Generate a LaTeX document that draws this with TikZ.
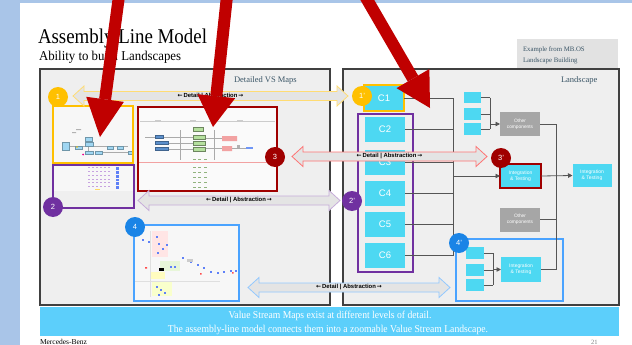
\documentclass[tikz,border=0pt]{standalone}
\usepackage{fontspec}
\setmainfont{Liberation Serif}
\setsansfont{Liberation Sans}
\newfontfamily\symbolfont{DejaVu Sans}
\usetikzlibrary{arrows.meta}

\definecolor{slideblue}{HTML}{A9C5E8}
\definecolor{panelgrey}{HTML}{EFEFEF}
\definecolor{panelline}{HTML}{404040}
\definecolor{headink}{HTML}{3A5566}
\definecolor{badgeyellow}{HTML}{FFC000}
\definecolor{badgepurple}{HTML}{7030A0}
\definecolor{badgered}{HTML}{A00000}
\definecolor{badgeblue}{HTML}{1A84E6}
\definecolor{frameblue}{HTML}{4AA3FF}
\definecolor{cyanbox}{HTML}{4DD8F2}
\definecolor{compgrey}{HTML}{A6A6A6}
\definecolor{wiregrey}{HTML}{555555}
\definecolor{bigred}{HTML}{C00000}
\definecolor{banner}{HTML}{5CCFFB}
\definecolor{arrowfill}{HTML}{E4E4E4}
\definecolor{examplegrey}{HTML}{E2E2E2}
\definecolor{minblue}{HTML}{9FD6F2}
\definecolor{mindark}{HTML}{5B8FCB}
\definecolor{mingreen}{HTML}{B5E09E}
\definecolor{minpink}{HTML}{F2A2A2}
\definecolor{minpurple}{HTML}{C7A3E0}

% double-headed "Detail | Abstraction" arrow: name, x-left, x-right, y, outline colour
\newcommand\detailarrow[5]{%
  \draw[draw=#5, fill=arrowfill, line width=0.8pt, line join=miter]
    (#2,#4) -- ({#2+11},{#4-10}) -- ({#2+11},{#4-4.5}) -- ({#3-11},{#4-4.5})
    -- ({#3-11},{#4-10}) -- (#3,#4) -- ({#3-11},{#4+10}) -- ({#3-11},{#4+4.5})
    -- ({#2+11},{#4+4.5}) -- ({#2+11},{#4+10}) -- cycle;
  \node[arrowtext] (#1) at ({(#2+#3)/2},#4)
    {{\symbolfont ←}\,Detail | Abstraction\,{\symbolfont →}};}

\tikzset{
  every node/.style={inner sep=0pt, outer sep=0pt},
  arrowtext/.style={font=\sffamily\bfseries\fontsize{5.9}{5.9}\selectfont, text=black},
  badge/.style={circle, minimum size=20pt, text=white,
    font=\sffamily\fontsize{7.5}{7.5}\selectfont},
  cbox/.style={rectangle, fill=cyanbox, text=white, minimum width=40pt,
    minimum height=25pt, font=\sffamily\fontsize{9.5}{9.5}\selectfont},
  tinybox/.style={rectangle, fill=cyanbox, minimum width=17pt, minimum height=11.5pt},
  comp/.style={rectangle, fill=compgrey, text=white, minimum width=40pt,
    minimum height=24pt, align=center, font=\sffamily\fontsize{4.8}{6}\selectfont},
  integ/.style={rectangle, fill=cyanbox, text=white, minimum width=41pt,
    minimum height=24pt, align=center, font=\sffamily\fontsize{5}{6.2}\selectfont},
  wire/.style={draw=wiregrey, line width=0.8pt},
  feed/.style={wire, -{Triangle[length=4.5pt,width=4.5pt]}},
  bigarrow/.style={draw=bigred, line width=12pt,
    -{Triangle[length=#1,width=38pt,line width=0pt]}},
  panel/.style={fill=panelgrey, draw=panelline, line width=1.4pt},
  head/.style={text=headink, font=\fontsize{8.5}{8.5}\selectfont, anchor=base west},
  mini/.style={draw=wiregrey!50, line width=0.3pt},
}

\begin{document}
\begin{tikzpicture}[x=1pt, y=-1pt]
\useasboundingbox (0,0) rectangle (632,345);

% slide background
\fill[slideblue] (0,0) rectangle (632,345);
\fill[white] (20,3) rectangle (632,345);

% titles
\node[anchor=base west, font=\fontsize{21}{21}\selectfont] (title) at (38,44)
  {\scalebox{0.9}[1]{Assembly Line Model}};
\node[anchor=base west, font=\fontsize{13.5}{13.5}\selectfont] (subtitle) at (39,61)
  {\scalebox{0.95}[1]{Ability to build Landscapes}};

% example tag
\fill[examplegrey] (517,39) rectangle (618,68);
\node[anchor=base west, text=headink, font=\fontsize{6.8}{6.8}\selectfont] (ex1) at (523,52) {Example from MB.OS};
\node[anchor=base west, text=headink, font=\fontsize{6.8}{6.8}\selectfont] (ex2) at (523,62.5) {Landscape Building};

% panels
\draw[panel] (40,69) rectangle (330,305);
\draw[panel] (343,69) rectangle (619,305);
\node[head] (lefthead) at (234,82) {Detailed VS Maps};
\node[head] (righthead) at (561,83) {Landscape};

% ---------- detailed maps ----------
% map 1
\fill[white!97!black] (53,106) rectangle (133,163);
\draw[mini] (68,146) -- (128,146) (88,140) -- (88,153) (100,152) -- (128,152);
\foreach \x/\y/\w/\h in {62/142/7/8, 75/146/7/3.5, 85/137/7/4, 85/142/8/4, 85/151/8/3.5,
  95/151/7/3.5, 107/146/6/3.5, 117/146/6/3.5, 128/151/4/3.5}
  \filldraw[fill=minblue, draw=minblue!70!black, line width=0.2pt] (\x,\y) rectangle ++(\w,\h);
\fill[magenta] (83,154.5) circle (1pt);
\fill[badgeyellow] (77,147) circle (0.8pt);
\fill[gray!60] (76,129) rectangle ++(5,1) (72,132) rectangle ++(4,1);
\draw[badgeyellow, line width=2pt] (53,106) rectangle (133,163);

% map 2
\fill[white!97!black] (53,165) rectangle (134,191);
\foreach \y in {167,171,175,178.5,182,186}
  \foreach \x in {88,92,96,100,104,108}
    \fill[minpurple] (\x,\y) rectangle ++(2.2,1.2);
\foreach \y in {167,171,175,178.5,182,186}
  \fill[minblue!60!blue] (116,\y) rectangle ++(2.5,2.5);
\fill[badgeyellow!60] (95,189) rectangle ++(5,1.2);
\draw[badgepurple, line width=2pt] (53,165) rectangle (134,208);

% map 3
\fill[white!98!black] (138,107) rectangle (277,191);
\draw[gray!40, line width=0.3pt] (140,121) -- (275,121);
\foreach \x in {155,190,237} \fill[gray!40] (\x,120) rectangle ++(6,2);
\draw[mini] (145,137) -- (193,137) (168,143) -- (193,143) (168,149) -- (193,149)
  (205,138) -- (222,138) (205,148) -- (222,148) (232,148) -- (250,148)
  (180,130) -- (180,160) (214,130) -- (214,160);
\draw[minpink, line width=0.5pt] (139,162) -- (276,162);
\foreach \y/\w in {135/8, 141/13, 147/13}
  \filldraw[fill=mindark, draw=mindark!70!black, line width=0.2pt] (155,\y) rectangle ++(\w,3);
\foreach \y/\w in {127/10, 135.5/12, 141/12, 147/12}
  \filldraw[fill=mingreen, draw=mingreen!60!black, line width=0.2pt] (193,\y) rectangle ++(\w,4);
\fill[minpink] (222,136) rectangle ++(15,5) (222,146) rectangle ++(10,5);
\fill[gray!60] (237,145) rectangle ++(3,3);
\fill[minblue!70!blue] (246,147) rectangle ++(7,1.5);
\foreach \y in {158.5,166.5,171.5,176.5,181.5,186.5}
  \foreach \x in {193,198,204}
    \fill[mingreen!80!black] (\x,\y) rectangle ++(2.5,1.6);
\draw[badgered, line width=2pt] (138,107) rectangle (277,191);

% map 4
\fill[white!97!black] (134,225) rectangle (239,301);
\fill[red!10] (152,231) rectangle (168,257);
\fill[yellow!40!green!15] (160,261) rectangle (180,271);
\fill[yellow!25] (150,272) rectangle (165,279);
\fill[green!12!yellow!20] (152,282) rectangle (172,296);
\draw[gray!25, line width=0.3pt] (134,281) -- (220,281) (150,231) -- (150,297);
\foreach \x/\y in {142/239, 148/241, 156/236, 158/243, 162/248, 157/252, 166/244,
  182/257, 190/261, 197/264, 203/267, 210/271, 217/272, 223/271, 230/270, 235/270,
  170/266, 174/266, 156/286, 160/289, 164/292, 158/294}
  \fill[minblue!60!blue] (\x,\y) rectangle ++(2.2,1.8);
\fill[red!70] (232,272) rectangle ++(1.5,1.5) (145,267) rectangle ++(2,1.5) (200,273) rectangle ++(1.5,1.5);
\fill[black] (159,267.5) rectangle ++(5,3);
\fill[gray!40] (187,259) rectangle ++(6,3);
\draw[frameblue, line width=2.5pt] (134,225) rectangle (239,301);

% ---------- landscape ----------
\node[cbox, draw=badgeyellow, line width=2pt] (c1) at (384,98) {C1};
\node[cbox] (c2) at (385,129.5) {C2};
\node[cbox] (c3) at (385,162.5) {C3};
\node[cbox] (c4) at (385,193) {C4};
\node[cbox] (c5) at (385,224.5) {C5};
\node[cbox] (c6) at (385,255.5) {C6};
\draw[badgepurple, line width=2pt] (358,114) rectangle (413,272);

\node[tinybox] (s1) at (472.5,97.5) {};
\node[tinybox] (s2) at (472.5,114) {};
\node[tinybox] (s3) at (472.5,129) {};
\node[comp] (oc1) at (520,124) {Other\\components};
\node[comp] (oc2) at (520,219.5) {Other\\components};
\node[integ, draw=badgered, line width=2pt] (it3) at (520.5,176) {Integration\\\& Testing};
\node[integ, minimum width=39pt, minimum height=23pt] (itf) at (592,175.5) {Integration\\\& Testing};

\draw[frameblue, line width=2.5pt] (456,239) rectangle (563,301);
\node[tinybox, minimum width=18pt] (t1) at (475,253) {};
\node[tinybox, minimum width=18pt] (t2) at (475,270) {};
\node[tinybox, minimum width=18pt] (t3) at (475,285) {};
\node[integ, minimum width=40pt, minimum height=25pt] (it4) at (521,269.5) {Integration\\\& Testing};

\coordinate (busA) at (453,0);
\coordinate (busB) at (490,0);
\coordinate (busC) at (556,0);
\coordinate (busD) at (493,0);

\foreach \n in {c1,c2,c3,c4,c5,c6} \draw[wire] (\n.east) -- (\n.east -| busA);
\draw[wire] (c1.east -| busA) -- (c6.east -| busA);
\draw[feed] (it3.west -| busA) -- (it3.west);

\foreach \n in {s1,s2,s3} \draw[wire] (\n.east) -- (\n.east -| busB);
\draw[wire] (s1.east -| busB) -- (s3.east -| busB);
\draw[feed] (oc1.west -| busB) -- (oc1.west);

\draw[wire] (oc1.east) -- (oc1.east -| busC) -- (it4.east -| busC) -- (it4.east);
\draw[wire] (oc2.east) -- (oc2.east -| busC);
\draw[feed] (it3.east) -- (itf.west);

\foreach \n in {t1,t2,t3} \draw[wire] (\n.east) -- (\n.east -| busD);
\draw[wire] (t1.east -| busD) -- (t3.east -| busD);
\draw[feed] (it4.west -| busD) -- (it4.west);

% ---------- detail / abstraction links ----------
\detailarrow{link1}{73}{348}{96}{badgeyellow!55}
\detailarrow{link2}{138}{340}{200.5}{badgepurple!40}
\detailarrow{link3}{292}{487}{156.5}{red!55}
\detailarrow{link4}{248}{450}{287.5}{frameblue!60}

% badges
\node[badge, fill=badgeyellow] (b1) at (58,97) {1};
\node[badge, fill=badgepurple] (b2) at (53,207) {2};
\node[badge, fill=badgered] (b3) at (275,157) {3};
\node[badge, fill=badgeblue] (b4) at (135,227) {4};
\node[badge, fill=badgeyellow] (b1p) at (362,96) {1'};
\node[badge, fill=badgepurple] (b2p) at (352,201) {2'};
\node[badge, fill=badgered] (b3p) at (501,158) {3'};
\node[badge, fill=badgeblue] (b4p) at (459,243) {4'};

% banner and footer
\fill[banner] (40,307) rectangle (619,336);
\node[text=white, font=\fontsize{10.5}{10.5}\selectfont, anchor=base] (msg1) at (330,318.5)
  {\scalebox{0.92}[1]{Value Stream Maps exist at different levels of detail.}};
\node[text=white, font=\fontsize{10.5}{10.5}\selectfont, anchor=base] (msg2) at (328,332)
  {\scalebox{0.92}[1]{The assembly-line model connects them into a zoomable Value Stream Landscape.}};
\node[anchor=base west, font=\fontsize{7.5}{7.5}\selectfont] (brand) at (40,344) {Mercedes-Benz};
\node[anchor=base west, text=gray, font=\fontsize{6.5}{6.5}\selectfont] (page) at (591,344) {21};

% pointer arrows
\coordinate (p1s) at (119,-4);
\coordinate (p1e) at (100,137);
\coordinate (p2s) at (227,-4);
\coordinate (p2e) at (213,127);
\coordinate (p3s) at (365,-4);
\coordinate (p3e) at (430,108);
\draw[bigarrow=38pt] (p1s) -- (p1e);
\draw[bigarrow=31pt] (p2s) -- (p2e);
\draw[bigarrow=34pt] (p3s) -- (p3e);
\end{tikzpicture}
\end{document}
